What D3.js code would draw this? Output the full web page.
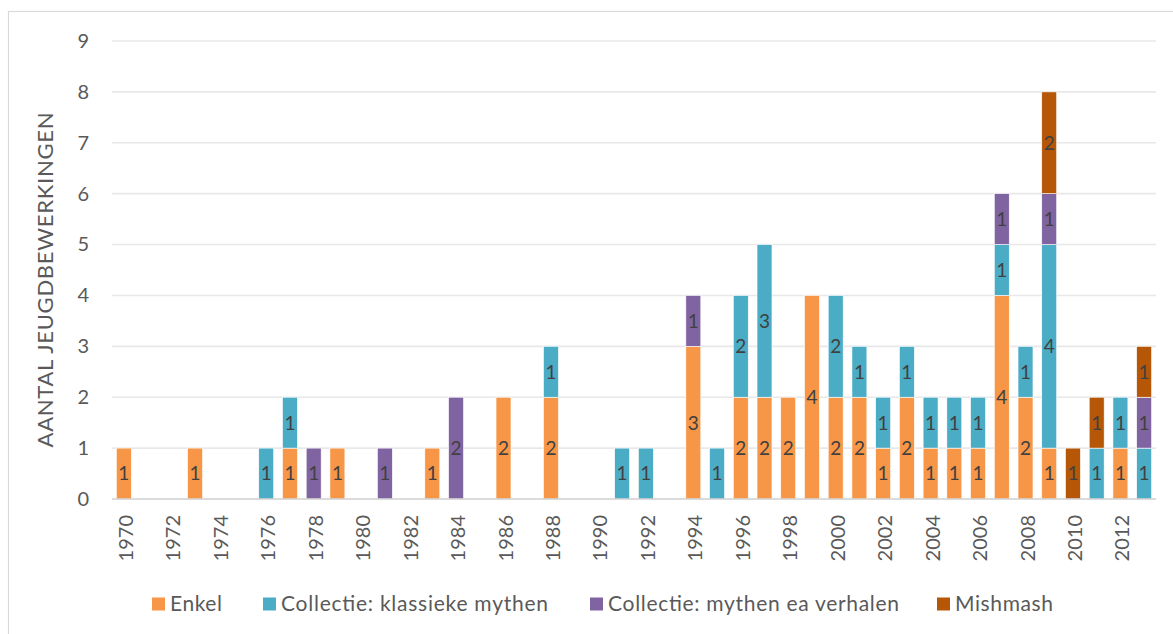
<!DOCTYPE html>
<html>
<head>
<meta charset="utf-8">
<script src="https://cdn.jsdelivr.net/npm/d3@7"></script>
<style>
  html, body { margin: 0; padding: 0; background: #fff; }
  svg { display: block; }
  text { font-family: "Gill Sans", "Lato", "Open Sans", sans-serif; }
</style>
</head>
<body>
<svg id="chart" width="1173" height="634"></svg>
<script>
// Years on the x axis
const years = d3.range(1970, 2014);

// Counts per year for each kind of adaptation
const enkel = [1,0,0,1,0,0,0,1,0,1, 0,0,0,1,0,0,2,0,2,0, 0,0,0,0,3,0,2,2,2,4, 2,2,1,2,1,1,1,4,2,1, 0,0,1,0];
const klassiek = [0,0,0,0,0,0,1,1,0,0, 0,0,0,0,0,0,0,0,1,0, 0,1,1,0,0,1,2,3,0,0, 2,1,1,1,1,1,1,1,1,4, 0,1,1,1];
const verhalen = [0,0,0,0,0,0,0,0,1,0, 0,1,0,0,2,0,0,0,0,0, 0,0,0,0,1,0,0,0,0,0, 0,0,0,0,0,0,0,1,0,1, 0,0,0,1];
const mishmash = [0,0,0,0,0,0,0,0,0,0, 0,0,0,0,0,0,0,0,0,0, 0,0,0,0,0,0,0,0,0,0, 0,0,0,0,0,0,0,0,0,2, 1,1,0,1];

const seriesNames = ["Enkel", "Collectie: klassieke mythen", "Collectie: mythen ea verhalen", "Mishmash"];
const seriesColors = ["#F79646", "#4BACC6", "#8064A2", "#B65708"];
const yTicks = [0,1,2,3,4,5,6,7,8,9];
const xTickYears = d3.range(1970, 2013, 2);
const yTitle = "AANTAL JEUGDBEWERKINGEN";

const rows = years.map((y, i) => ({
  year: y,
  [seriesNames[0]]: enkel[i],
  [seriesNames[1]]: klassiek[i],
  [seriesNames[2]]: verhalen[i],
  [seriesNames[3]]: mishmash[i]
}));

const svg = d3.select("#chart");
const W = 1173, H = 634;
const margin = { left: 112, right: 17, top: 41, bottom: 135 };
const innerW = W - margin.left - margin.right;
const innerH = H - margin.top - margin.bottom;

// outer frame of the chart area
svg.append("rect")
  .attr("x", 8.5).attr("y", 11.5)
  .attr("width", 1180).attr("height", 640)
  .attr("fill", "none").attr("stroke", "#d9d9d9").attr("stroke-width", 1.2);

const g = svg.append("g").attr("transform", `translate(${margin.left},${margin.top})`);

const x = d3.scaleBand().domain(years).range([0, innerW]).paddingInner(0.37).paddingOuter(0.185);
const y = d3.scaleLinear().domain([0, 9]).range([innerH, 0]);

// horizontal gridlines
g.append("g")
  .selectAll("line")
  .data(yTicks.filter(t => t > 0))
  .join("line")
  .attr("x1", 0).attr("x2", innerW)
  .attr("y1", d => y(d)).attr("y2", d => y(d))
  .attr("stroke", "#e8e8e8").attr("stroke-width", 1.6);

// y axis labels
const yAxis = g.append("g")
  .call(d3.axisLeft(y).tickValues(yTicks).tickSize(0).tickPadding(23))
  .call(s => s.select(".domain").remove());
yAxis.selectAll("text")
  .attr("fill", "#595959").attr("font-size", 20)
  .attr("font-family", "'Gill Sans', 'Lato', sans-serif");

// stacked bars
const stacked = d3.stack().keys(seriesNames)(rows);

const layers = g.append("g").selectAll("g")
  .data(stacked)
  .join("g")
  .attr("fill", (d, i) => seriesColors[i]);

layers.selectAll("rect")
  .data(d => d.filter(p => p[1] - p[0] > 0))
  .join("rect")
  .attr("x", d => x(d.data.year))
  .attr("y", d => y(d[1]))
  .attr("width", x.bandwidth())
  .attr("height", d => y(d[0]) - y(d[1]))
  .attr("stroke", "#fff").attr("stroke-width", 0.6);

// value labels centred in each segment
const labels = g.append("g");
stacked.forEach(layer => {
  labels.selectAll(null)
    .data(layer.filter(p => p[1] - p[0] > 0))
    .join("text")
    .attr("x", d => x(d.data.year) + x.bandwidth() / 2)
    .attr("y", d => (y(d[0]) + y(d[1])) / 2)
    .attr("dy", "0.36em")
    .attr("text-anchor", "middle")
    .attr("fill", "#404040")
    .attr("font-size", 19)
    .attr("font-family", "'DejaVu Sans', sans-serif")
    .text(d => d[1] - d[0]);
});

// baseline
g.append("line")
  .attr("x1", 0).attr("x2", innerW)
  .attr("y1", innerH).attr("y2", innerH)
  .attr("stroke", "#cfcfcf").attr("stroke-width", 1.6);

// x axis labels, rotated
const xAxis = g.append("g")
  .attr("transform", `translate(0,${innerH})`)
  .call(d3.axisBottom(x).tickValues(xTickYears).tickSize(0).tickPadding(0))
  .call(s => s.select(".domain").remove());
xAxis.selectAll("text")
  .attr("fill", "#595959").attr("font-size", 20)
  .attr("font-family", "'Liberation Sans', Arial, sans-serif")
  .attr("text-anchor", "end")
  .attr("dy", null)
  .attr("x", 0).attr("y", 0)
  .attr("dominant-baseline", "central")
  .attr("transform", "translate(1,16) rotate(-90)");

// y axis title
svg.append("text")
  .attr("transform", `translate(44,280) rotate(-90)`)
  .attr("text-anchor", "middle")
  .attr("dominant-baseline", "central")
  .attr("fill", "#595959")
  .attr("font-size", 22)
  .attr("textLength", 335)
  .attr("font-family", "'Gill Sans', 'Lato', sans-serif")
  .text(yTitle);

// legend
const legendX = [152, 263, 590, 937];
const legendW = [52, 267, 291, 98];
const legend = svg.append("g");
seriesNames.forEach((name, i) => {
  const lg = legend.append("g").attr("transform", `translate(${legendX[i]},604)`);
  lg.append("rect").attr("x", 0).attr("y", -6.5).attr("width", 13).attr("height", 13).attr("fill", seriesColors[i]);
  lg.append("text").attr("x", 18).attr("y", 0).attr("dy", "0.35em")
    .attr("fill", "#595959").attr("font-size", 21)
    .attr("textLength", legendW[i])
    .attr("font-family", "'Gill Sans', 'Lato', sans-serif")
    .text(name);
});
</script>
</body>
</html>
